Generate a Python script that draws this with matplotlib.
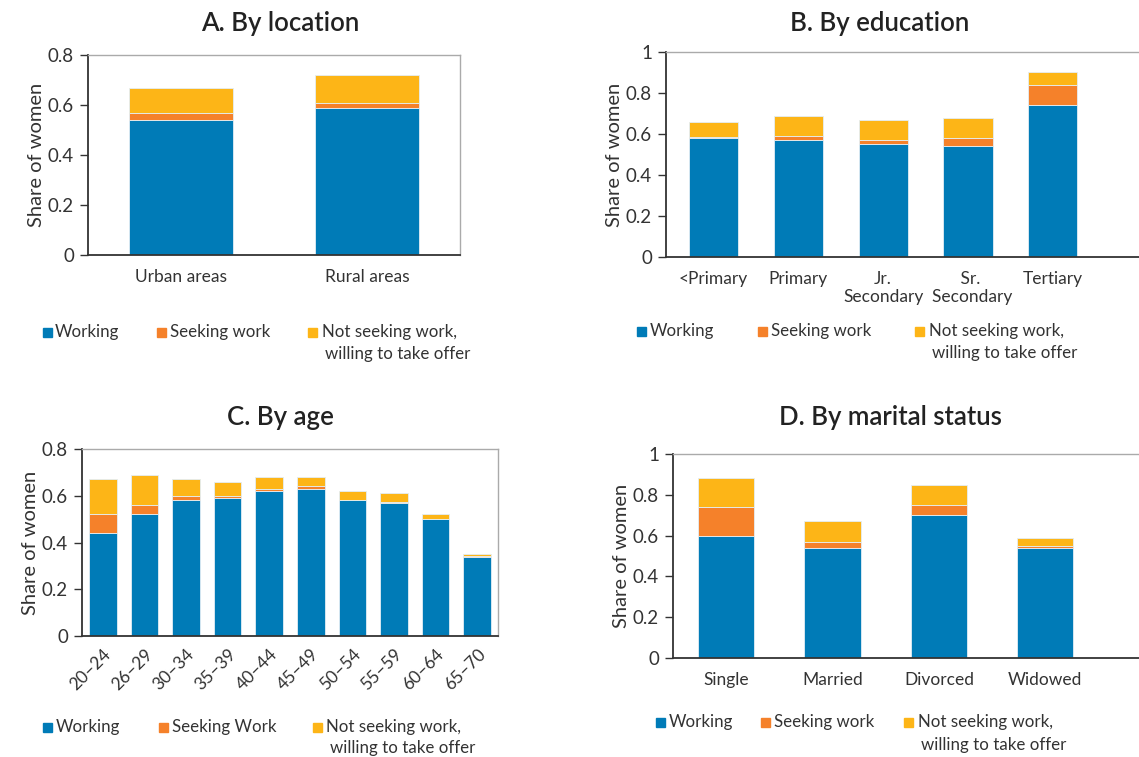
import matplotlib
matplotlib.use("Agg")
import matplotlib.pyplot as plt
from matplotlib.patches import Rectangle

plt.rcParams["font.family"] = ["Lato", "DejaVu Sans"]

W, H = 1139, 757

# ── Data ─────────────────────────────────────────────
loc_cats = ["Urban areas", "Rural areas"]
loc_working = [0.54, 0.59]
loc_seeking = [0.03, 0.02]
loc_willing = [0.10, 0.11]

edu_cats = ["<Primary", "Primary", "Jr.\nSecondary", " Sr.\n  Secondary", "Tertiary"]
edu_working = [0.58, 0.57, 0.55, 0.54, 0.74]
edu_seeking = [0.003, 0.02, 0.02, 0.04, 0.10]
edu_willing = [0.077, 0.10, 0.10, 0.10, 0.06]

age_cats = ["20–24", "26–29", "30–34", "35–39", "40–44",
            "45–49", "50–54", "55–59", "60–64", "65–70"]
age_working = [0.44, 0.52, 0.58, 0.59, 0.62, 0.63, 0.58, 0.57, 0.50, 0.34]
age_seeking = [0.08, 0.04, 0.02, 0.01, 0.01, 0.01, 0.002, 0.002, 0.002, 0.002]
age_willing = [0.15, 0.13, 0.07, 0.06, 0.05, 0.04, 0.038, 0.038, 0.018, 0.008]

mar_cats = ["Single", "Married", "Divorced", "Widowed"]
mar_working = [0.60, 0.54, 0.70, 0.54]
mar_seeking = [0.14, 0.03, 0.05, 0.01]
mar_willing = [0.14, 0.10, 0.10, 0.04]

ticks_08 = [0, 0.2, 0.4, 0.6, 0.8]
ticklabels_08 = ["0", "0.2", "0.4", "0.6", "0.8"]
ticks_1 = [0, 0.2, 0.4, 0.6, 0.8, 1.0]
ticklabels_1 = ["0", "0.2", "0.4", "0.6", "0.8", "1"]

BLUE, ORANGE, YELLOW = "#007BB7", "#F5812A", "#FDB517"
TEXT = "#333333"


def fig_box(left, top, right, bottom):
    return [left / W, 1 - bottom / H, (right - left) / W, (bottom - top) / H]


def stacked(ax, cats, working, seeking, willing, width, xlim, ylim, ticks, labels):
    x = range(len(cats))
    bottom2 = [a + b for a, b in zip(working, seeking)]
    kw = dict(width=width, edgecolor="#e3eef5", linewidth=0.6)
    ax.bar(x, working, color=BLUE, **kw)
    ax.bar(x, seeking, bottom=working, color=ORANGE, **kw)
    ax.bar(x, willing, bottom=bottom2, color=YELLOW, **kw)
    ax.set_xlim(*xlim)
    ax.set_ylim(*ylim)
    ax.set_yticks(ticks)
    ax.set_yticklabels(labels)
    ax.set_xticks(list(x))
    ax.set_xticklabels(cats)
    ax.tick_params(axis="y", direction="out", length=6, width=1, color=TEXT,
                   labelsize=13.5, labelcolor=TEXT, pad=4)
    ax.tick_params(axis="x", length=0, labelsize=12.5, labelcolor=TEXT, pad=10)
    ax.set_ylabel("Share of women", fontsize=14.5, color=TEXT, labelpad=2)
    for s in ["left", "bottom"]:
        ax.spines[s].set_color(TEXT)
        ax.spines[s].set_linewidth(1.3)
    for s in ["top", "right"]:
        ax.spines[s].set_color("#aaaaaa")
        ax.spines[s].set_linewidth(1.0)


def legend(fig, y, sq_x, txt_x, names, second_x, second_y):
    colors = [BLUE, ORANGE, YELLOW]
    s = 9
    for c, sx, tx, name in zip(colors, sq_x, txt_x, names):
        fig.add_artist(Rectangle((sx / W, 1 - (y + s / 2) / H), s / W, s / H,
                                 transform=fig.transFigure, color=c))
        fig.text(tx / W, 1 - y / H, name, fontsize=12.2, color=TEXT,
                 ha="left", va="center")
    fig.text(second_x / W, 1 - second_y / H, "willing to take offer",
             fontsize=12.2, color=TEXT, ha="left", va="center")


fig = plt.figure(figsize=(W / 100, H / 100), dpi=100)

# A. By location
ax = fig.add_axes(fig_box(88, 55, 460, 255))
stacked(ax, loc_cats, loc_working, loc_seeking, loc_willing, 0.56,
        (-0.5, 1.5), (0, 0.8), ticks_08, ticklabels_08)
fig.text(280 / W, 1 - 24 / H, "A. By location", fontsize=18.5, fontweight="semibold",
         color="#222222", ha="center", va="center")
legend(fig, 332, [43, 157, 308], [55, 170, 322],
       ["Working", "Seeking work", "Not seeking work,"], 325, 354)

# B. By education
ax = fig.add_axes(fig_box(666, 52, 1141, 257))
stacked(ax, edu_cats, edu_working, edu_seeking, edu_willing, 0.58,
        (-0.56, 5.04), (0, 1.0), ticks_1, ticklabels_1)
fig.text(880 / W, 1 - 24 / H, "B. By education", fontsize=18.5, fontweight="semibold",
         color="#222222", ha="center", va="center")
legend(fig, 331, [637, 758, 915], [650, 771, 929],
       ["Working", "Seeking work", "Not seeking work,"], 932, 353)

# C. By age
ax = fig.add_axes(fig_box(82, 449, 498, 636))
stacked(ax, age_cats, age_working, age_seeking, age_willing, 0.66,
        (-0.5, 9.5), (0, 0.8), ticks_08, ticklabels_08)
for lab in ax.get_xticklabels():
    lab.set_rotation(45)
    lab.set_ha("right")
    lab.set_va("top")
    lab.set_rotation_mode("anchor")
ax.tick_params(axis="x", pad=7)
fig.text(280 / W, 1 - 418 / H, "C. By age", fontsize=18.5, fontweight="semibold",
         color="#222222", ha="center", va="center")
legend(fig, 727, [43, 159, 313], [56, 172, 326],
       ["Working", "Seeking Work", "Not seeking work,"], 330, 748)

# D. By marital status
ax = fig.add_axes(fig_box(673, 454, 1141, 658))
stacked(ax, mar_cats, mar_working, mar_seeking, mar_willing, 0.53,
        (-0.5, 3.9), (0, 1.0), ticks_1, ticklabels_1)
fig.text(890 / W, 1 - 418 / H, "D. By marital status", fontsize=18.5, fontweight="semibold",
         color="#222222", ha="center", va="center")
legend(fig, 722, [656, 761, 904], [669, 774, 918],
       ["Working", "Seeking work", "Not seeking work,"], 921, 745)

fig.savefig("out.png", dpi=100)
